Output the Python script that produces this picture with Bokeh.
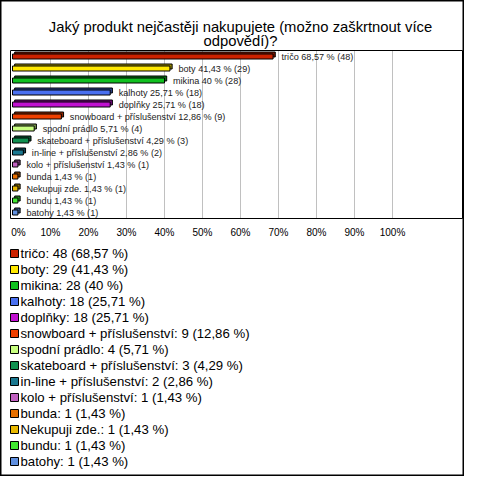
from bokeh.plotting import figure
from bokeh.models import Range1d, ColumnDataSource
from bokeh.core.properties import value
from bokeh.embed import file_html
from bokeh.resources import INLINE

# ---- data ----
categories = ["tričo", "boty", "mikina", "kalhoty", "doplňky",
              "snowboard + příslušenství", "spodní prádlo",
              "skateboard + příslušenství", "in-line + příslušenství",
              "kolo + příslušenství", "bunda", "Nekupuji zde.", "bundu", "batohy"]
counts = [48, 29, 28, 18, 18, 9, 4, 3, 2, 1, 1, 1, 1, 1]
percents = [68.57, 41.43, 40, 25.71, 25.71, 12.86, 5.71, 4.29, 2.86, 1.43, 1.43, 1.43, 1.43, 1.43]
percent_labels = ["68,57", "41,43", "40", "25,71", "25,71", "12,86", "5,71", "4,29",
                  "2,86", "1,43", "1,43", "1,43", "1,43", "1,43"]
colors = ["#CC2200", "#FFE800", "#10C020", "#4A70F0", "#C010D0", "#F04000", "#C8FF80",
          "#109050", "#1A7890", "#C060C0", "#E87000", "#E8B800", "#40E830", "#6090E0"]
ticks = [0, 10, 20, 30, 40, 50, 60, 70, 80, 90, 100]
tick_labels = ["0%", "10%", "20%", "30%", "40%", "50%", "60%", "70%", "80%", "90%", "100%"]
title_lines = ["Jaký produkt nejčastěji nakupujete (možno zaškrtnout více", "odpovědí)?"]

FONT = value("Liberation Sans")
W, H = 464, 476


def darker(c, f=0.6):
    r, g, b = int(c[1:3], 16), int(c[3:5], 16), int(c[5:7], 16)
    return "#%02x%02x%02x" % (int(r * f), int(g * f), int(b * f))


n = len(categories)
rows = list(range(n))

# scales: x in percent, y in bar rows
PX_PER_PCT = 3.8
PX_PER_ROW = 12.0
X0_PX = 12.0   # pixel position of 0 %
Y0_PX = 56.0   # pixel position of first row
x0 = -X0_PX / PX_PER_PCT
x1 = (W - X0_PX) / PX_PER_PCT
y_top = -Y0_PX / PX_PER_ROW
y_bot = (H - Y0_PX) / PX_PER_ROW

p = figure(width=W, height=H, output_backend="svg", toolbar_location=None,
           x_range=Range1d(x0, x1), y_range=Range1d(y_bot, y_top),
           x_axis_type=None, y_axis_type=None, min_border=0)
p.grid.visible = False
p.background_fill_color = "white"
p.border_fill_color = "white"
p.outline_line_color = "black"
p.outline_line_width = 2

# plot area frame bounds
fl, fr = (10 - X0_PX) / PX_PER_PCT, (W - 2 - X0_PX) / PX_PER_PCT
ft, fb = -0.5, n - 0.5

# grid lines
gx = ticks[1:]
p.segment(x0=gx, x1=gx, y0=[ft] * len(gx), y1=[fb] * len(gx),
          line_color="#C0C0C0", line_width=1)
# plot frame
p.quad(left=[fl], right=[fr], top=[ft], bottom=[fb], fill_color=None,
       line_color="black", line_width=1)

# 3D bars
dx = 2.2 / PX_PER_PCT
dy = 2.0 / PX_PER_ROW
h = 5.0 / PX_PER_ROW
src = ColumnDataSource(dict(
    y=rows, yb=[r - dy for r in rows], pct=percents,
    pctb=[v + dx for v in percents], leftb=[dx] * n, left=[0] * n,
    color=colors, dcolor=[darker(c) for c in colors],
    blabel=[f"{c} {pl} % ({k})" for c, pl, k in zip(categories, percent_labels, counts)],
    llabel=[f"{c}: {k} ({pl} %)" for c, pl, k in zip(categories, percent_labels, counts)],
))
p.hbar(y="yb", left="leftb", right="pctb", height=h, fill_color="dcolor",
       line_color="black", line_width=1, source=src)
p.hbar(y="y", left="left", right="pct", height=h, fill_color="color",
       line_color="black", line_width=1, source=src)
p.text(x="pct", y="y", text="blabel", source=src, x_offset=8.5,
       text_font=FONT, text_font_size="9.1px", text_color="#222222",
       text_align="left", text_baseline="middle")

# tick labels
tick_y = (232 - Y0_PX) / PX_PER_ROW
p.text(x=ticks, y=[tick_y] * len(ticks), text=tick_labels,
       x_offset=[6] + [0] * (len(ticks) - 1),
       text_font=FONT, text_font_size="10px", text_color="black",
       text_align="center", text_baseline="middle")

# title
tx = (240 - X0_PX) / PX_PER_PCT
p.text(x=[tx, tx], y=[(26 - Y0_PX) / PX_PER_ROW, (40 - Y0_PX) / PX_PER_ROW], text=title_lines,
       text_font=FONT, text_font_size="14.8px", text_color="black",
       text_align="center", text_baseline="alphabetic")

# legend (below the chart)
leg_y = [(253 - Y0_PX + 16 * i) / PX_PER_ROW for i in rows]
src_l = ColumnDataSource(dict(y=leg_y, color=colors, llabel=src.data["llabel"],
                              xs=[(14 - X0_PX) / PX_PER_PCT] * n,
                              xt=[(20 - X0_PX) / PX_PER_PCT] * n))
p.rect(x="xs", y="y", width=8, height=8, width_units="screen", height_units="screen",
       fill_color="color", line_color="black", line_width=1, source=src_l)
p.text(x="xt", y="y", text="llabel", source=src_l,
       text_font=FONT, text_font_size="13.2px", text_color="black",
       text_align="left", text_baseline="middle")

open("out.html", "w").write(file_html(p, INLINE))
